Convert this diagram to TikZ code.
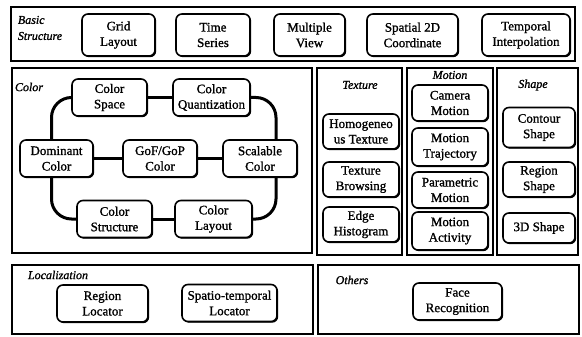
\documentclass[tikz,border=0pt]{standalone}
\usepackage{fontspec}
\setmainfont{Liberation Serif}
\newfontfamily\boxfont{Liberation Serif}[FakeBold=1.2]
\usetikzlibrary{shadows}
\begin{document}
\begin{tikzpicture}[x=1pt, y=-1pt,
    shade/.style={drop shadow={shadow xshift=1.2pt, shadow yshift=-1.2pt, opacity=1, fill=black}},
    panel/.style={draw, fill=white, line width=1.6pt, shade},
    mbox/.style={draw, fill=white, rounded corners=6pt, line width=1.6pt, align=center, inner sep=1pt,
        minimum height=37pt, font=\boxfont\fontsize{13}{15.5}\selectfont, shade},
    lbl/.style={font=\boxfont\fontsize{12}{16}\selectfont\itshape, align=left, inner sep=0pt},
    link/.style={line width=3pt, rounded corners=20pt}]
    \useasboundingbox (0,0) rectangle (582,337);
    % Gruppen
    \draw[panel] (11,7) rectangle (575,61);
    \draw[panel] (12,68) rectangle (312,253);
    \draw[panel] (317,68) rectangle (402,255);
    \draw[panel] (407,68) rectangle (493,255);
    \draw[panel] (497,68) rectangle (578,255);
    \draw[panel] (12,265) rectangle (313,334);
    \draw[panel] (318,265) rectangle (579,334);
    % Basic Structure
    \node[lbl] (lbasic) at (40,28) {Basic\\Structure};
    \node[mbox, minimum width=73, minimum height=42] (grid) at (118.5,35) {Grid\\Layout};
    \node[mbox, minimum width=74, minimum height=42] (time) at (213,35) {Time\\Series};
    \node[mbox, minimum width=71, minimum height=42] (multi) at (309.5,35) {Multiple\\View};
    \node[mbox, minimum width=91, minimum height=42] (spatial) at (412.5,35) {Spatial 2D\\Coordinate};
    \node[mbox, minimum width=88, minimum height=42] (interp) at (526,35) {Temporal\\Interpolation};
    % Color
    \node[lbl] (lcolor) at (29,87) {Color};
    \node[mbox, minimum width=75] (cspace) at (109.5,97.5) {Color\\Space};
    \node[mbox, minimum width=77] (cquant) at (211.5,97.5) {Color\\Quantization};
    \node[mbox, minimum width=73] (cdom) at (56.5,158.5) {Dominant\\Color};
    \node[mbox, minimum width=74] (cgof) at (160,158.5) {GoF/GoP\\Color};
    \node[mbox, minimum width=74] (cscal) at (260,158.5) {Scalable\\Color};
    \node[mbox, minimum width=75] (cstruct) at (114.5,219) {Color\\Structure};
    \node[mbox, minimum width=77] (clayout) at (213.5,219) {Color\\Layout};
    \draw[link] (cspace) -- (cquant);
    \draw[link] (cquant.east) -| ([xshift=16pt]cscal.north);
    \draw[link] (cspace.west) -| ([xshift=-5pt]cdom.north);
    \draw[link] (cdom) -- (cgof);
    \draw[link] (cgof) -- (cscal);
    \draw[link] ([xshift=-5pt]cdom.south) |- (cstruct.west);
    \draw[link] (cstruct) -- (clayout);
    \draw[link] ([xshift=16pt]cscal.south) |- (clayout.east);
    % Texture
    \node[lbl] (ltex) at (360,85) {Texture};
    \node[mbox, minimum width=76, minimum height=35] (thomo) at (361,131.5) {Homogeneo\\us Texture};
    \node[mbox, minimum width=76, minimum height=35] (tbrow) at (361,179.5) {Texture\\Browsing};
    \node[mbox, minimum width=76, minimum height=35] (tedge) at (361,224.5) {Edge\\Histogram};
    % Motion
    \node[lbl] (lmot) at (450,75) {Motion};
    \node[mbox, minimum width=76, minimum height=36] (mcam) at (450,103) {Camera\\Motion};
    \node[mbox, minimum width=76, minimum height=38] (mtraj) at (450,147) {Motion\\Trajectory};
    \node[mbox, minimum width=76, minimum height=36] (mpara) at (450,190) {Parametric\\Motion};
    \node[mbox, minimum width=76, minimum height=38] (mact) at (450,231) {Motion\\Activity};
    % Shape
    \node[lbl] (lshape) at (533,85) {Shape};
    \node[mbox, minimum width=72, minimum height=40] (scont) at (539,127.5) {Contour\\Shape};
    \node[mbox, minimum width=72, minimum height=35] (sreg) at (539,179.5) {Region\\Shape};
    \node[mbox, minimum width=72, minimum height=30] (s3d) at (539,228) {3D Shape};
    % Localization
    \node[lbl] (lloc) at (58,275) {Localization};
    \node[mbox, minimum width=91] (lregion) at (102.5,303.5) {Region\\Locator};
    \node[mbox, minimum width=95] (lspatio) at (229.5,303) {Spatio-temporal\\Locator};
    % Others
    \node[lbl] (loth) at (352,280) {Others};
    \node[mbox, minimum width=89] (oface) at (457.5,301.5) {Face\\Recognition};
\end{tikzpicture}
\end{document}
